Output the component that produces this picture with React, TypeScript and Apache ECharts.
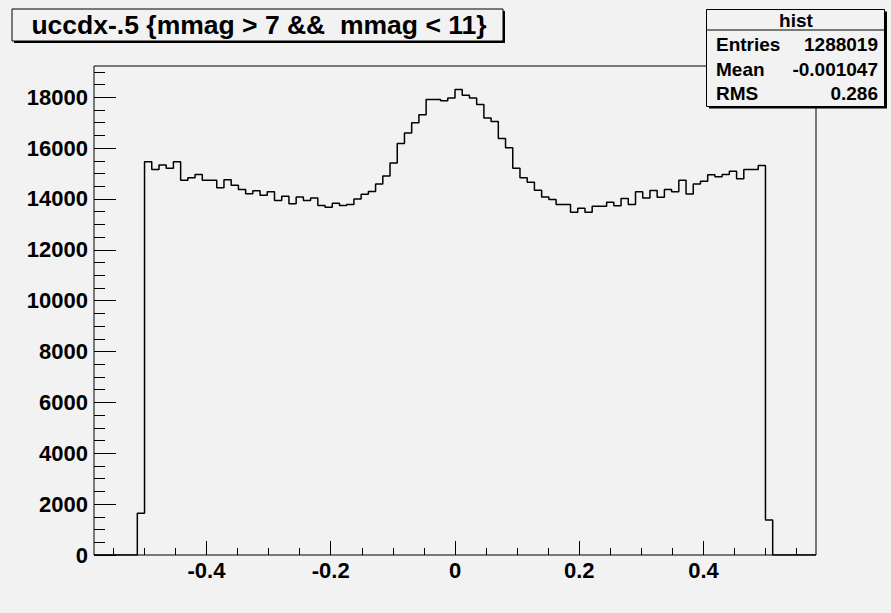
import React, { useEffect, useRef } from "react";
import * as echarts from "echarts";

// Histogram definition (ROOT: 100 bins over the frame range)
const xMin = -0.581;
const xMax = 0.581;
const nBins = 100;
const yMax = 19230;

// Bin contents (6 empty bins each side + 88 filled bins)
const emptyEdge = [0, 0, 0, 0, 0, 0];
const filledCounts = [
  1640, 15460, 15160, 15340, 15210, 15460, 14740, 14840, 14960, 14740,
  14740, 14440, 14760, 14540, 14370, 14210, 14320, 14150, 14280, 13940,
  14110, 13810, 14080, 13940, 14040, 13740, 13680, 13830, 13740, 13780,
  14000, 14190, 14290, 14590, 14900, 15420, 16180, 16600, 17000, 17310,
  17910, 17910, 17860, 17970, 18310, 18080, 17970, 17720, 17190, 17050,
  16380, 16020, 15210, 14840, 14660, 14340, 14080, 13980, 13780, 13780,
  13480, 13640, 13480, 13710, 13710, 13870, 13730, 14020, 13780, 14280,
  14040, 14330, 14070, 14370, 14280, 14740, 14200, 14590, 14700, 14950,
  14870, 14960, 15090, 14800, 15160, 15160, 15320, 1380,
];
const counts = [...emptyEdge, ...filledCounts, ...emptyEdge];

// Axis tick values
const xMajorTicks = [-0.4, -0.2, 0, 0.2, 0.4];
const xMinorTicks = [
  -0.55, -0.5, -0.45, -0.35, -0.3, -0.25, -0.15, -0.1, -0.05,
  0.05, 0.1, 0.15, 0.25, 0.3, 0.35, 0.45, 0.5, 0.55,
];
const yMajorTicks = [0, 2000, 4000, 6000, 8000, 10000, 12000, 14000, 16000, 18000];
const yMinorTicks = [
  500, 1000, 1500, 2500, 3000, 3500, 4500, 5000, 5500, 6500, 7000, 7500,
  8500, 9000, 9500, 10500, 11000, 11500, 12500, 13000, 13500, 14500, 15000,
  15500, 16500, 17000, 17500, 18500, 19000,
];

// Texts
const titleText = "uccdx-.5 {mmag > 7 &&  mmag < 11}";
const statsName = "hist";
const statsLabels = ["Entries", "Mean", "RMS"];
const statsValues = ["1288019", "-0.001047", "0.286"];

const FONT = "'Liberation Sans', Arial, Helvetica, sans-serif";
const BG = "#f2f2f2";

export default function App() {
  const ref = useRef<HTMLDivElement>(null);

  useEffect(() => {
    if (!ref.current) return;
    const chart = echarts.init(ref.current, null, { renderer: "svg" });

    const binW = (xMax - xMin) / nBins;
    const pts: number[][] = [];
    counts.forEach((c, i) => pts.push([xMin + i * binW, c]));
    pts.push([xMax, counts[counts.length - 1]]);

    const tickStyle = { color: "#000", width: 1 };
    const labelStyle = {
      color: "#000",
      fontSize: 22,
      fontWeight: "bold" as const,
      fontFamily: FONT,
      formatter: (v: number) => String(v),
    };
    const noLine = { show: false, onZero: false };

    const statsFont = `bold 19px ${FONT}`;
    const statsRows: any[] = [];
    const rowY = [44, 69, 93];
    statsLabels.forEach((lab, i) => {
      statsRows.push({
        type: "text",
        x: 716,
        y: rowY[i],
        style: { text: lab, fill: "#000", font: statsFont, textAlign: "left", textVerticalAlign: "middle" },
      });
      statsRows.push({
        type: "text",
        x: 878,
        y: rowY[i],
        style: { text: statsValues[i], fill: "#000", font: statsFont, textAlign: "right", textVerticalAlign: "middle" },
      });
    });

    chart.setOption({
      animation: false,
      backgroundColor: BG,
      grid: {
        left: 94,
        top: 66,
        right: 75,
        bottom: 58,
        show: true,
        borderColor: "#000",
        borderWidth: 1,
        backgroundColor: "transparent",
        containLabel: false,
        outerBoundsMode: "none",
      },
      xAxis: [
        {
          type: "value",
          min: xMin,
          max: xMax,
          axisLine: noLine,
          splitLine: { show: false },
          axisTick: { show: true, inside: true, length: 14, lineStyle: tickStyle, customValues: xMajorTicks },
          axisLabel: { ...labelStyle, margin: 4, customValues: xMajorTicks },
        },
        {
          type: "value",
          min: xMin,
          max: xMax,
          position: "bottom",
          axisLine: noLine,
          splitLine: { show: false },
          axisTick: { show: true, inside: true, length: 7, lineStyle: tickStyle, customValues: xMinorTicks },
          axisLabel: { show: false },
        },
      ],
      yAxis: [
        {
          type: "value",
          min: 0,
          max: yMax,
          position: "left",
          axisLine: noLine,
          splitLine: { show: false },
          axisTick: { show: true, inside: true, length: 22, lineStyle: tickStyle, customValues: yMajorTicks },
          axisLabel: { ...labelStyle, margin: 6, customValues: yMajorTicks },
        },
        {
          type: "value",
          min: 0,
          max: yMax,
          position: "left",
          axisLine: noLine,
          splitLine: { show: false },
          axisTick: { show: true, inside: true, length: 11, lineStyle: tickStyle, customValues: yMinorTicks },
          axisLabel: { show: false },
        },
      ],
      series: [
        {
          type: "line",
          xAxisIndex: 0,
          yAxisIndex: 0,
          data: pts,
          step: "end",
          symbol: "none",
          lineStyle: { color: "#000", width: 1.5 },
          clip: true,
        },
      ],
      graphic: [
        // title box
        { type: "rect", shape: { x: 14, y: 11, width: 491, height: 32 }, style: { fill: "#000" } },
        { type: "rect", shape: { x: 12, y: 9, width: 491, height: 32 }, style: { fill: BG, stroke: "#000", lineWidth: 1 } },
        {
          type: "text",
          x: 259,
          y: 25,
          style: { text: titleText, fill: "#000", font: `bold 26.5px ${FONT}`, textAlign: "center", textVerticalAlign: "middle" },
        },
        // stats box
        { type: "rect", shape: { x: 709, y: 11.5, width: 178, height: 97 }, style: { fill: "#000" } },
        { type: "rect", shape: { x: 706.5, y: 9.5, width: 178, height: 97 }, style: { fill: BG, stroke: "#000", lineWidth: 1 } },
        { type: "line", shape: { x1: 706.5, y1: 30, x2: 884.5, y2: 30 }, style: { stroke: "#000", lineWidth: 1 } },
        {
          type: "text",
          x: 796,
          y: 20,
          style: { text: statsName, fill: "#000", font: statsFont, textAlign: "center", textVerticalAlign: "middle" },
        },
        ...statsRows,
      ],
    });

    return () => chart.dispose();
  }, []);

  return (
    <div
      ref={ref}
      style={{ position: "fixed", left: 0, top: 0, width: 891, height: 613 }}
    />
  );
}
